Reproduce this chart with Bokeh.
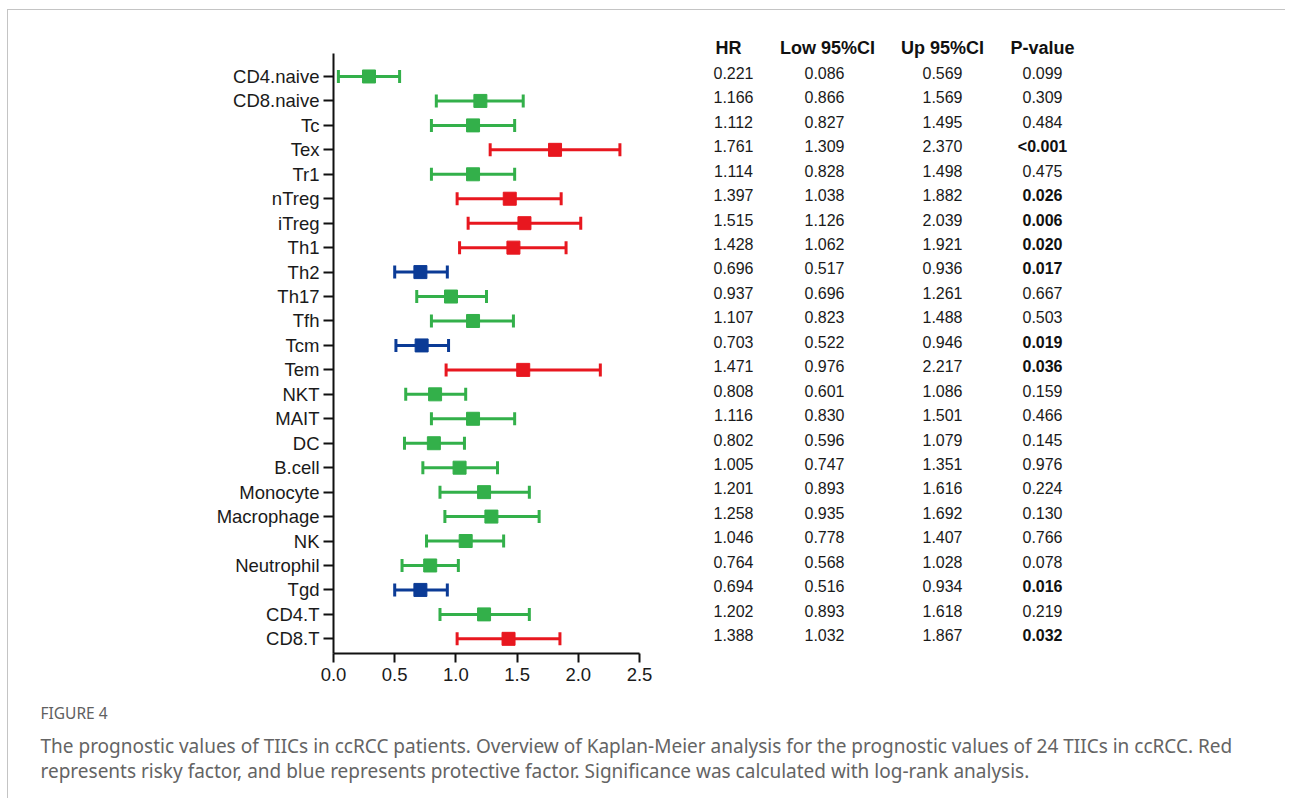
import numpy as np
from bokeh.plotting import figure
from bokeh.layouts import row, column
from bokeh.models import (Range1d, FixedTicker, ColumnDataSource, NumeralTickFormatter,
                          LinearAxis)
from bokeh.core.properties import value
from bokeh.embed import file_html
from bokeh.resources import INLINE

# ---------------- data ----------------
names = ["CD4.naive", "CD8.naive", "Tc", "Tex", "Tr1", "nTreg", "iTreg", "Th1", "Th2",
         "Th17", "Tfh", "Tcm", "Tem", "NKT", "MAIT", "DC", "B.cell", "Monocyte",
         "Macrophage", "NK", "Neutrophil", "Tgd", "CD4.T", "CD8.T"]

# values as drawn in the forest plot
plot_hr = [0.29, 1.20, 1.14, 1.81, 1.14, 1.44, 1.56, 1.47, 0.71, 0.96, 1.14, 0.72,
           1.55, 0.83, 1.14, 0.82, 1.03, 1.23, 1.29, 1.08, 0.79, 0.71, 1.23, 1.43]
plot_low = [0.04, 0.84, 0.80, 1.28, 0.80, 1.01, 1.10, 1.03, 0.50, 0.68, 0.80, 0.51,
            0.92, 0.59, 0.80, 0.58, 0.73, 0.87, 0.91, 0.76, 0.56, 0.50, 0.87, 1.01]
plot_up = [0.54, 1.55, 1.48, 2.34, 1.48, 1.86, 2.02, 1.90, 0.93, 1.25, 1.47, 0.94,
           2.18, 1.08, 1.48, 1.07, 1.34, 1.60, 1.68, 1.39, 1.02, 0.93, 1.60, 1.85]

# table values
hr_txt = ["0.221", "1.166", "1.112", "1.761", "1.114", "1.397", "1.515", "1.428", "0.696",
          "0.937", "1.107", "0.703", "1.471", "0.808", "1.116", "0.802", "1.005", "1.201",
          "1.258", "1.046", "0.764", "0.694", "1.202", "1.388"]
low_txt = ["0.086", "0.866", "0.827", "1.309", "0.828", "1.038", "1.126", "1.062", "0.517",
           "0.696", "0.823", "0.522", "0.976", "0.601", "0.830", "0.596", "0.747", "0.893",
           "0.935", "0.778", "0.568", "0.516", "0.893", "1.032"]
up_txt = ["0.569", "1.569", "1.495", "2.370", "1.498", "1.882", "2.039", "1.921", "0.936",
          "1.261", "1.488", "0.946", "2.217", "1.086", "1.501", "1.079", "1.351", "1.616",
          "1.692", "1.407", "1.028", "0.934", "1.618", "1.867"]
p_txt = ["0.099", "0.309", "0.484", "<0.001", "0.475", "0.026", "0.006", "0.020", "0.017",
         "0.667", "0.503", "0.019", "0.036", "0.159", "0.466", "0.145", "0.976", "0.224",
         "0.130", "0.766", "0.078", "0.016", "0.219", "0.032"]
headers = ["HR", "Low 95%CI", "Up 95%CI", "P-value"]
x_ticks = [0.0, 0.5, 1.0, 1.5, 2.0, 2.5]

fig_label = "FIGURE 4"
caption_lines = [
    "The prognostic values of TIICs in ccRCC patients. Overview of Kaplan-Meier analysis for the prognostic values of 24 TIICs in ccRCC. Red",
    "represents risky factor, and blue represents protective factor. Significance was calculated with log-rank analysis.",
]

RED, BLUE, GREEN = "#E8171F", "#0B3B96", "#33B04A"


def p_num(s):
    return 0.0005 if s.startswith("<") else float(s)


sig = [p_num(s) < 0.05 for s in p_txt]
colors = [(RED if float(h) > 1 else BLUE) if s else GREEN for h, s in zip(hr_txt, sig)]

# ---------------- geometry (page pixels) ----------------
CX, CY = 8, 10            # content origin (inside card border)
SPLIT_X = 660             # boundary between forest plot and table
RIGHT_X = 1285
SPLIT_Y = 698             # boundary between chart and caption
BOTTOM_Y = 798
FL, FR, FT, FB = 333, 639, 53, 653   # forest frame edges
X0, X1 = 0.0, 2.5
Y_TOP, Y_BOT = -0.94, 23.6

AX_FONT = "Liberation Sans"
CAP_FONT = "Noto Sans"
TXT = "#1a1a1a"

# ---------------- forest plot ----------------
yr = Range1d(Y_BOT, Y_TOP)
pa = figure(width=SPLIT_X - CX, height=SPLIT_Y - CY, output_backend="svg",
            toolbar_location=None, title=None,
            x_range=Range1d(X0, X1), y_range=yr,
            min_border_left=FL - CX, min_border_right=SPLIT_X - FR,
            min_border_top=FT - CY, min_border_bottom=SPLIT_Y - FB)
pa.outline_line_color = None
pa.xgrid.grid_line_color = None
pa.ygrid.grid_line_color = None

for ax in (pa.xaxis[0], pa.yaxis[0]):
    ax.axis_line_width = 2
    ax.axis_line_color = "#111111"
    ax.major_tick_line_width = 2
    ax.major_tick_line_color = "#111111"
    ax.major_tick_in = 0
    ax.minor_tick_line_color = None
    ax.major_label_text_font = AX_FONT
    ax.major_label_text_font_size = "18.5px"
    ax.major_label_text_color = TXT

pa.xaxis.ticker = FixedTicker(ticks=x_ticks)
pa.xaxis.formatter = NumeralTickFormatter(format="0.0")
pa.xaxis.major_tick_out = 9
pa.xaxis.major_label_standoff = 5

pa.yaxis.ticker = FixedTicker(ticks=list(range(len(names))))
pa.yaxis.major_label_overrides = {i: n for i, n in enumerate(names)}
pa.yaxis.major_tick_out = 10
pa.yaxis.major_label_standoff = 4

src = ColumnDataSource(dict(y=list(range(len(names))), hr=plot_hr, lo=plot_low,
                            up=plot_up, color=colors))
pa.segment(x0="lo", y0="y", x1="up", y1="y", line_color="color", line_width=3, source=src)
for col in ("lo", "up"):
    pa.scatter(x=col, y="y", marker="dash", size=13, angle=np.pi / 2,
               line_color="color", line_width=3, source=src)
pa.scatter(x="hr", y="y", marker="square", size=13, fill_color="color",
           line_color="color", source=src)

# ---------------- table (frame aligned with the forest frame) ----------------
pb = figure(width=RIGHT_X - SPLIT_X, height=SPLIT_Y - CY, output_backend="svg",
            toolbar_location=None, title=None, x_axis_type=None, y_axis_type=None,
            x_range=Range1d(SPLIT_X, RIGHT_X), y_range=yr,
            min_border_left=0, min_border_right=0,
            min_border_top=FT - CY, min_border_bottom=SPLIT_Y - FB)
pb.outline_line_color = None
pb.xgrid.grid_line_color = None
pb.ygrid.grid_line_color = None

head_x = [728, 827, 942, 1042]
val_x = [733, 824, 942, 1042]
ROW_OFF = -0.15

head_axis = LinearAxis(ticker=FixedTicker(ticks=head_x),
                       major_label_overrides={hx: h for hx, h in zip(head_x, headers)})
head_axis.axis_line_color = None
head_axis.major_tick_line_color = None
head_axis.minor_tick_line_color = None
head_axis.major_tick_out = 0
head_axis.major_tick_in = 0
head_axis.major_label_standoff = -4
head_axis.major_label_text_font = AX_FONT
head_axis.major_label_text_font_size = "18px"
head_axis.major_label_text_font_style = "bold"
head_axis.major_label_text_color = "#111111"
pb.add_layout(head_axis, "above")

cols = [hr_txt, low_txt, up_txt, p_txt]
for ci, (vx, colvals) in enumerate(zip(val_x, cols)):
    for bold in (False, True):
        idx = [i for i in range(len(colvals)) if (ci == 3 and sig[i]) == bold]
        if not idx:
            continue
        pb.text(x=[vx] * len(idx), y=[i + ROW_OFF for i in idx],
                text=[colvals[i] for i in idx], text_align="center",
                text_baseline="middle", text_font=value(AX_FONT), text_font_size="16px",
                text_font_style="bold" if bold else "normal",
                text_color="#111111" if bold else TXT)

# ---------------- caption ----------------
pc = figure(width=RIGHT_X - CX, height=BOTTOM_Y - SPLIT_Y, output_backend="svg",
            toolbar_location=None, title=None, x_axis_type=None, y_axis_type=None,
            x_range=Range1d(CX, RIGHT_X), y_range=Range1d(BOTTOM_Y, SPLIT_Y),
            min_border=0)
pc.outline_line_color = None
pc.xgrid.grid_line_color = None
pc.ygrid.grid_line_color = None
pc.text(x=[40], y=[712], text=[fig_label], text_align="left", text_baseline="middle",
        text_font=value(CAP_FONT), text_font_size="15.5px", text_color="#606060")
pc.text(x=[40, 40], y=[745, 770], text=caption_lines, text_align="left",
        text_baseline="middle", text_font=value(CAP_FONT), text_font_size="19px",
        text_color="#646464")

layout = column(row(pa, pb), pc, margin=(CY - 1, 0, 0, CX - 1),
                styles={"border-top": "1px solid #c4c4c4", "border-left": "1px solid #c4c4c4"})

open("out.html", "w").write(file_html(layout, INLINE))
